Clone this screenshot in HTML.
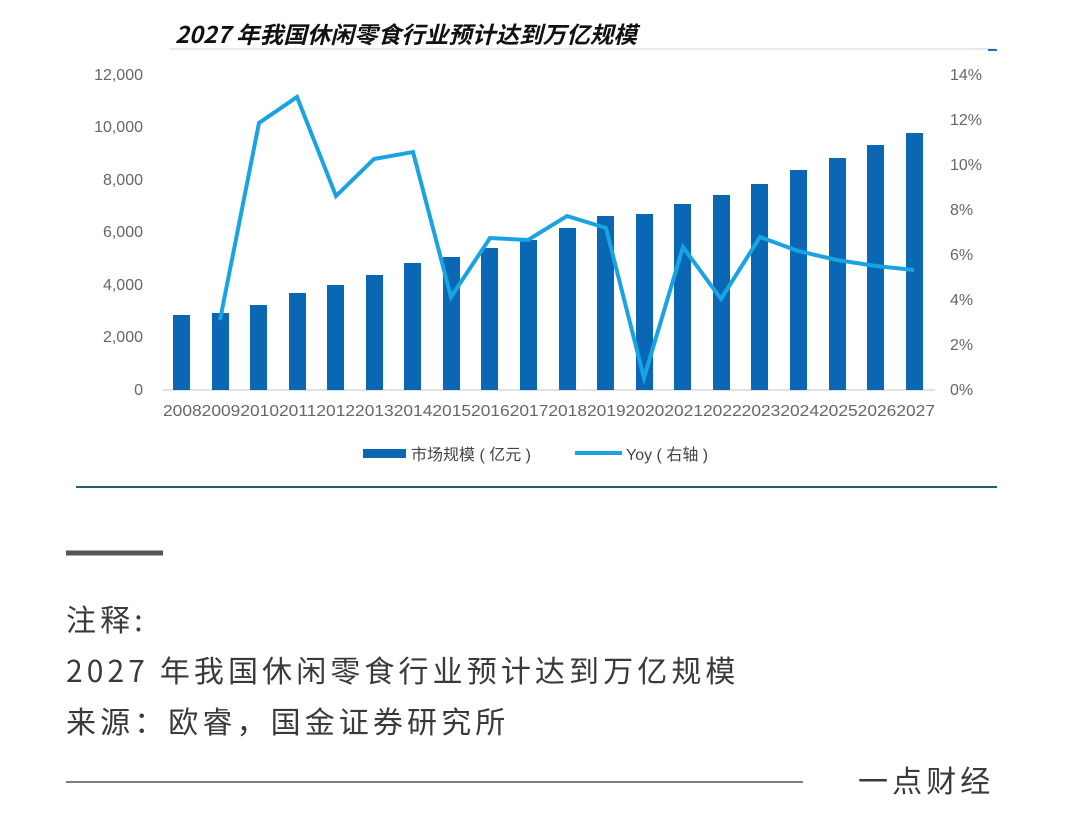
<!DOCTYPE html>
<html><head><meta charset="utf-8"><style>
body{margin:0;background:#fff;width:1080px;height:825px;overflow:hidden;font-family:"Liberation Sans","Noto Sans CJK SC",sans-serif}
.t{position:absolute;color:#3a3a3a;font-size:30px;letter-spacing:4.1px;font-family:"Noto Sans CJK SC",sans-serif;font-weight:400;white-space:nowrap;line-height:1}
</style></head><body>
<svg width="1080" height="825" style="position:absolute;left:0;top:0" font-family="Liberation Sans, Noto Sans CJK SC, sans-serif">
<text x="175" y="43" font-size="23" font-weight="bold" font-style="italic" fill="#111" font-family="Noto Sans CJK SC, sans-serif" textLength="462" lengthAdjust="spacingAndGlyphs">2027 年我国休闲零食行业预计达到万亿规模</text>
<line x1="170" y1="49" x2="995" y2="49" stroke="#dde3ea" stroke-width="1.5"/>
<line x1="988" y1="50" x2="997" y2="50" stroke="#2b6ea5" stroke-width="2"/>
<g font-size="16" fill="#666" text-anchor="end">
<text x="143" y="80">12,000</text><text x="143" y="132">10,000</text><text x="143" y="185">8,000</text><text x="143" y="237">6,000</text><text x="143" y="290">4,000</text><text x="143" y="342">2,000</text><text x="143" y="395">0</text>
</g>
<g font-size="16" fill="#666">
<text x="950" y="80">14%</text><text x="950" y="125">12%</text><text x="950" y="170">10%</text><text x="950" y="215">8%</text><text x="950" y="260">6%</text><text x="950" y="305">4%</text><text x="950" y="350">2%</text><text x="950" y="395">0%</text>
</g>
<line x1="163" y1="390" x2="935" y2="390" stroke="#d8d8d8" stroke-width="1.5"/>
<g fill="#0a67b3">
<rect x="173" y="315" width="17" height="75"/><rect x="212" y="313" width="17" height="77"/><rect x="250" y="305" width="17" height="85"/><rect x="289" y="293" width="17" height="97"/><rect x="327" y="285" width="17" height="105"/><rect x="366" y="275" width="17" height="115"/><rect x="404" y="263" width="17" height="127"/><rect x="443" y="257" width="17" height="133"/><rect x="481" y="248" width="17" height="142"/><rect x="520" y="240" width="17" height="150"/><rect x="559" y="228" width="17" height="162"/><rect x="597" y="216" width="17" height="174"/><rect x="636" y="214" width="17" height="176"/><rect x="674" y="204" width="17" height="186"/><rect x="713" y="195" width="17" height="195"/><rect x="751" y="184" width="17" height="206"/><rect x="790" y="170" width="17" height="220"/><rect x="829" y="158" width="17" height="232"/><rect x="867" y="145" width="17" height="245"/><rect x="906" y="133" width="17" height="257"/>
</g>
<polyline fill="none" stroke="#1aa3e2" stroke-width="4" stroke-linejoin="miter" points="220,320 259,123 297,97 336,196 374,159 413,152 451,297 490,238 528,240 567,216 606,228 644,378 683,247 721,299 760,237 798,251 837,260 876,266 914,270"/>
<text x="163" y="416" font-size="16" fill="#666" textLength="772" lengthAdjust="spacingAndGlyphs">20082009201020112012201320142015201620172018201920202021202220232024202520262027</text>
<rect x="363" y="449" width="43" height="9" fill="#0a67b3"/>
<text x="411" y="460" font-size="16" fill="#444">市场规模 ( 亿元 )</text>
<line x1="575" y1="453" x2="622" y2="453" stroke="#1aa3e2" stroke-width="4"/>
<text x="626" y="460" font-size="16" fill="#444">Yoy ( 右轴 )</text>
<line x1="76" y1="487" x2="997" y2="487" stroke="#1f5f78" stroke-width="2"/>
<line x1="66" y1="553" x2="163" y2="553" stroke="#555" stroke-width="5"/>
<line x1="66" y1="782" x2="803" y2="782" stroke="#555" stroke-width="1.5"/>
</svg>
<div class="t" style="left:66px;top:603px">注释:</div>
<div class="t" style="left:66px;top:654px">2027 年我国休闲零食行业预计达到万亿规模</div>
<div class="t" style="left:66px;top:705px">来源：欧睿，国金证券研究所</div>
<div class="t" style="left:858px;top:764px">一点财经</div>
</body></html>
